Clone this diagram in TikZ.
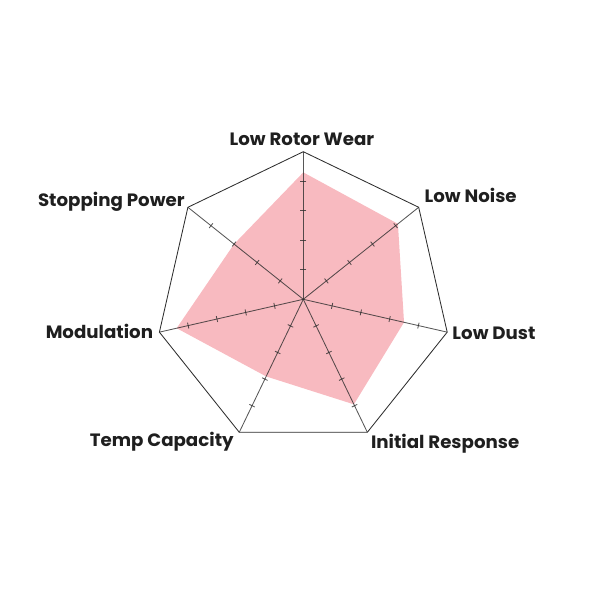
\documentclass[tikz,border=0pt]{standalone}
\usepackage{fontspec}
\setmainfont{Poppins}[FakeStretch=1.02]
\usetikzlibrary{calc}

\definecolor{padpink}{RGB}{248,186,192}
\definecolor{gridgray}{RGB}{45,45,45}

\tikzset{
  axislbl/.style={font=\bfseries\fontsize{12.7}{15}\selectfont, text=black!88, inner sep=0pt},
  gridln/.style={draw=gridgray, line width=0.6pt},
  spoke/.style={draw=gridgray, draw opacity=0.8, line width=0.6pt},
}

\begin{document}
\begin{tikzpicture}[x=0.025cm, y=-0.025cm]
    \useasboundingbox (0,0) rectangle (600,600);
    \coordinate (c) at (303.3,299.3); % chart centre

    % Outer heptagon corners
    \foreach \i in {0,...,6} {
        \coordinate (v\i) at ($(c)+({\i*360/7-90}:147.6)$);
    }
    \draw[gridln] (v0) -- (v1) -- (v2) -- (v3) -- (v4) -- (v5) -- (v6) -- cycle;

    % Rating polygon
    \foreach \i/\val in {0/0.86, 1/0.82, 2/0.70, 3/0.79, 4/0.58, 5/0.88, 6/0.60} {
        \coordinate (d\i) at ($(c)+({\i*360/7-90}:{147.6*\val})$);
    }
    \fill[padpink] (d0) -- (d1) -- (d2) -- (d3) -- (d4) -- (d5) -- (d6) -- cycle;

    % Spokes with tick marks
    \foreach \i in {0,...,6} {
        \draw[spoke] (c) -- (v\i);
        \foreach \k in {1,...,4} {
            \coordinate (t) at ($(c)+({\i*360/7-90}:{147.6*\k/5})$);
            \draw[spoke] ($(t)+({\i*360/7}:3)$) -- ($(t)+({\i*360/7+180}:3)$);
        }
    }

    % Axis labels
    \node[axislbl, anchor=base] (rotor) at ($(v0)+(-1.3,-6)$) {Low Rotor Wear};
    \node[axislbl, anchor=base west] (noise) at ($(v1)+(5.7,-5)$) {Low Noise};
    \node[axislbl, anchor=base west] (dust) at ($(v2)+(5,7.3)$) {Low Dust};
    \node[axislbl, anchor=base west] (resp) at ($(v3)+(3.4,16.3)$) {Initial Response};
    \node[axislbl, anchor=base east] (temp) at ($(v4)+(-5.3,14.4)$) {Temp Capacity};
    \node[axislbl, anchor=base east] (modul) at ($(v5)+(-6,6.6)$) {Modulation};
    \node[axislbl, anchor=base east] (stop) at ($(v6)+(-3,-1)$) {Stopping Power};
\end{tikzpicture}
\end{document}
